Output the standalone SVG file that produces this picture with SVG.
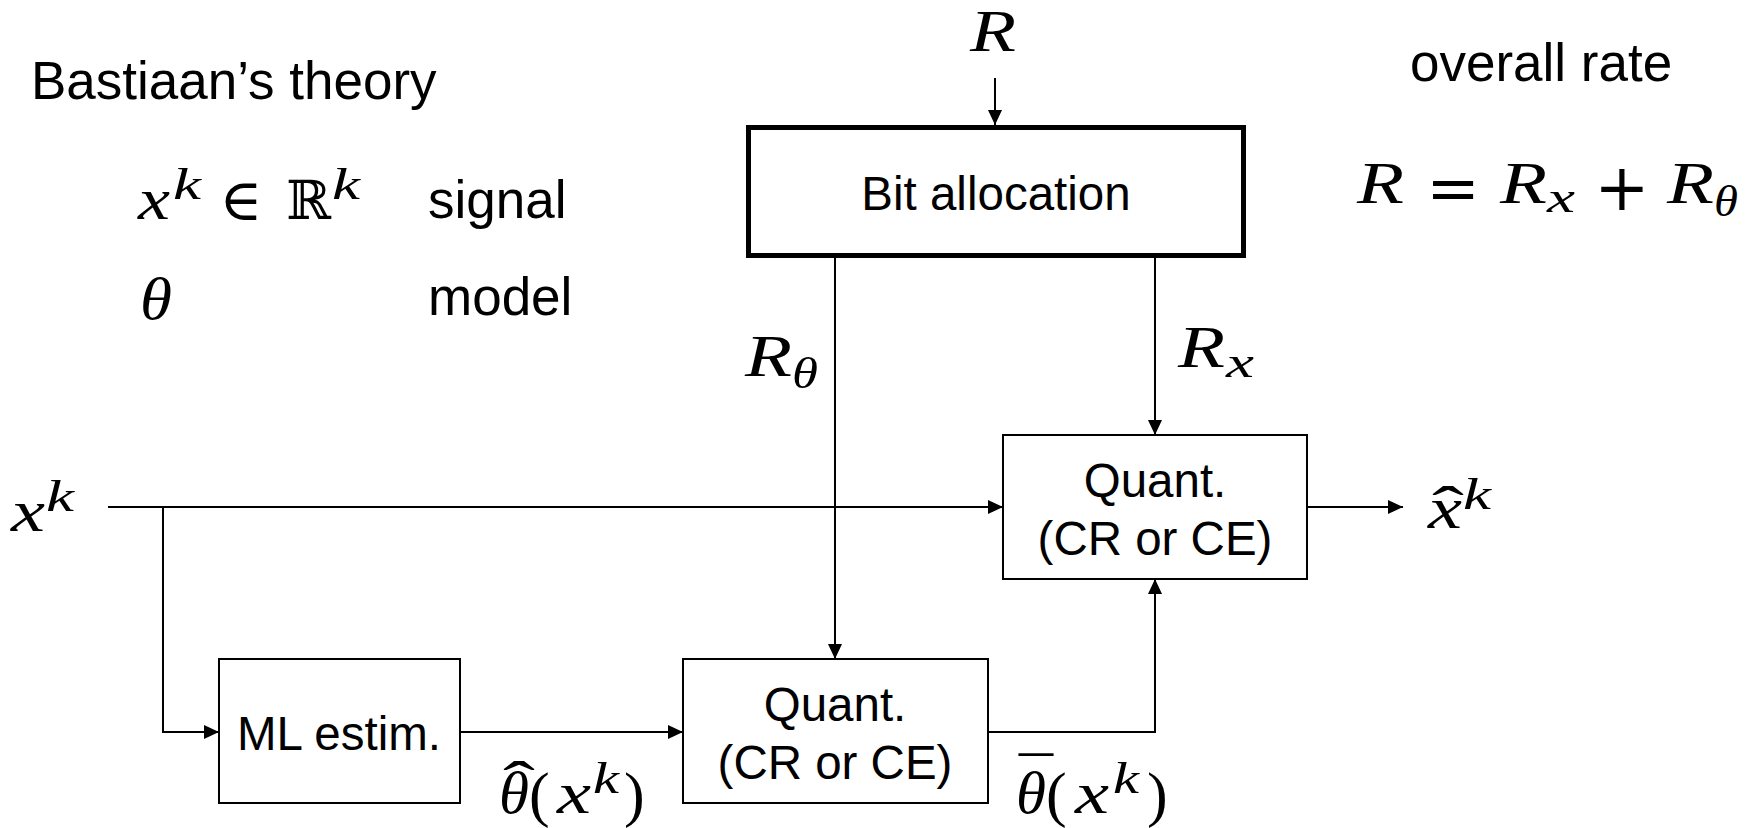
<svg xmlns="http://www.w3.org/2000/svg" width="1753" height="828" viewBox="0 0 1753 828">
  <style>
    .t { font-family: "Liberation Sans", Arial, sans-serif; fill: #000; }
    .lbl { font-size: 53px; }
    .box-txt { font-size: 47.5px; text-anchor: middle; }
    .m { font-family: "Liberation Serif", "DejaVu Serif", serif; font-style: italic; fill: #000; font-size: 60px; }
    .s { font-family: "Liberation Serif", "DejaVu Serif", serif; font-style: italic; fill: #000; font-size: 44px; }
    .mu { font-family: "Liberation Serif", "DejaVu Serif", serif; font-style: normal; fill: #000; font-size: 62px; }
    .op { font-family: "DejaVu Serif", "Liberation Serif", serif; font-style: normal; fill: #000; }
    .box { fill: #fff; stroke: #000; stroke-width: 2; }
    .box-bold { fill: #fff; stroke: #000; stroke-width: 5; }
    .wire { fill: none; stroke: #000; stroke-width: 2; }
  </style>
  <defs>
    <marker id="ah" markerUnits="userSpaceOnUse" markerWidth="16" markerHeight="14" refX="15" refY="7" orient="auto">
      <path d="M0,0 L15,7 L0,14 z" fill="#000"/>
    </marker>
  </defs>

  <rect width="1753" height="828" fill="#fff"/>

  <!-- heading and legend -->
  <g id="legend">
    <text class="t lbl" x="31" y="99">Bastiaan’s theory</text>
    <text class="m" x="138" y="219" textLength="32" lengthAdjust="spacingAndGlyphs">x</text>
    <text class="s" x="173" y="199" textLength="28" lengthAdjust="spacingAndGlyphs">k</text>
    <text class="op" x="241" y="220" font-size="58" text-anchor="middle">∈</text>
    <text class="op" x="286" y="219" font-size="54">ℝ</text>
    <text class="s" x="332" y="199" textLength="28" lengthAdjust="spacingAndGlyphs">k</text>
    <text class="t lbl" x="428" y="218">signal</text>
    <text class="m" x="140" y="319" textLength="32" lengthAdjust="spacingAndGlyphs">θ</text>
    <text class="t lbl" x="428" y="315">model</text>
  </g>

  <g id="rate">
    <text class="t lbl" x="1410" y="81">overall rate</text>
    <text class="m" x="1357" y="203" textLength="47" lengthAdjust="spacingAndGlyphs">R</text>
    <text class="op" x="1453" y="210" font-size="64" text-anchor="middle">=</text>
    <text class="m" x="1500" y="203" textLength="47" lengthAdjust="spacingAndGlyphs">R</text>
    <text class="s" x="1547" y="212" textLength="28" lengthAdjust="spacingAndGlyphs">x</text>
    <text class="op" x="1622" y="210" font-size="66" text-anchor="middle">+</text>
    <text class="m" x="1667" y="203" textLength="47" lengthAdjust="spacingAndGlyphs">R</text>
    <text class="s" x="1714" y="216" textLength="24" lengthAdjust="spacingAndGlyphs">θ</text>
  </g>

  <!-- connectors -->
  <g id="connectors">
    <path class="wire" d="M995,78 V125" marker-end="url(#ah)"/>
    <path class="wire" d="M835,258 V659" marker-end="url(#ah)"/>
    <path class="wire" d="M1155,258 V435" marker-end="url(#ah)"/>
    <path class="wire" d="M108,507 H1003" marker-end="url(#ah)"/>
    <path class="wire" d="M108,507 H163" stroke-width="3"/>
    <path class="wire" d="M163,507 V732 H219" marker-end="url(#ah)"/>
    <path class="wire" d="M460,732 H683" marker-end="url(#ah)"/>
    <path class="wire" d="M988,732 H1155 V579" marker-end="url(#ah)"/>
    <path class="wire" d="M1307,507 H1403" marker-end="url(#ah)"/>
  </g>

  <!-- signal labels on the wires -->
  <g id="wire-labels">
    <text class="m" x="970" y="51" textLength="46" lengthAdjust="spacingAndGlyphs">R</text>

    <text class="m" x="745" y="376" textLength="47" lengthAdjust="spacingAndGlyphs">R</text>
    <text class="s" x="792" y="388" textLength="26" lengthAdjust="spacingAndGlyphs">θ</text>
    <text class="m" x="1178" y="367" textLength="47" lengthAdjust="spacingAndGlyphs">R</text>
    <text class="s" x="1226" y="377" textLength="28" lengthAdjust="spacingAndGlyphs">x</text>

    <text class="m" x="11" y="531" textLength="34" lengthAdjust="spacingAndGlyphs">x</text>
    <text class="s" x="46" y="511" textLength="28" lengthAdjust="spacingAndGlyphs">k</text>

    <text class="m" x="1428" y="528" textLength="34" lengthAdjust="spacingAndGlyphs">x</text>
    <text class="mu" x="1432" y="529" textLength="32" lengthAdjust="spacingAndGlyphs">ˆ</text>
    <text class="s" x="1463" y="509" textLength="28" lengthAdjust="spacingAndGlyphs">k</text>

    <text class="m" x="499" y="813" textLength="30" lengthAdjust="spacingAndGlyphs">θ</text>
    <text class="mu" x="503" y="804" textLength="32" lengthAdjust="spacingAndGlyphs">ˆ</text>
    <text class="mu" x="529" y="815">(</text>
    <text class="m" x="557" y="813" textLength="34" lengthAdjust="spacingAndGlyphs">x</text>
    <text class="s" x="593" y="793" textLength="26" lengthAdjust="spacingAndGlyphs">k</text>
    <text class="mu" x="624" y="815">)</text>

    <text class="m" x="1016" y="813" textLength="30" lengthAdjust="spacingAndGlyphs">θ</text>
    <text class="mu" x="1019" y="800" textLength="34" lengthAdjust="spacingAndGlyphs">¯</text>
    <text class="mu" x="1046" y="815">(</text>
    <text class="m" x="1075" y="813" textLength="34" lengthAdjust="spacingAndGlyphs">x</text>
    <text class="s" x="1113" y="793" textLength="26" lengthAdjust="spacingAndGlyphs">k</text>
    <text class="mu" x="1147" y="815">)</text>
  </g>

  <!-- blocks -->
  <g id="bit-allocation">
    <rect class="box-bold" x="748.5" y="127.5" width="495" height="128"/>
    <text class="t box-txt" x="996" y="210">Bit allocation</text>
  </g>

  <g id="quant-x">
    <rect class="box" x="1003" y="435" width="304" height="144"/>
    <text class="t box-txt" x="1155" y="497">Quant.</text>
    <text class="t box-txt" x="1155" y="555">(CR or CE)</text>
  </g>

  <g id="ml-estim">
    <rect class="box" x="219" y="659" width="241" height="144"/>
    <text class="t box-txt" x="339" y="750">ML estim.</text>
  </g>

  <g id="quant-theta">
    <rect class="box" x="683" y="659" width="305" height="144"/>
    <text class="t box-txt" x="835" y="721">Quant.</text>
    <text class="t box-txt" x="835" y="779">(CR or CE)</text>
  </g>
</svg>
